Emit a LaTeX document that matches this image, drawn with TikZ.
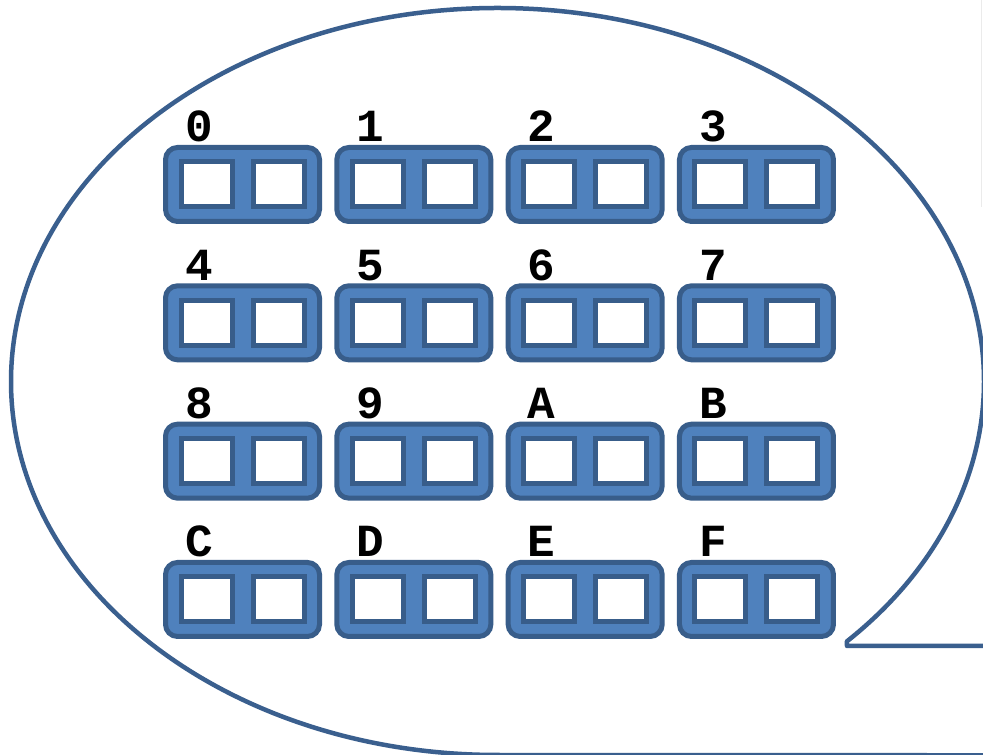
\documentclass[tikz,border=0pt]{standalone}
\usepackage{fontspec}
\newfontfamily\lblfont{Liberation Mono}
\definecolor{cellfill}{HTML}{4F81BD}
\definecolor{celledge}{HTML}{385D8A}
\definecolor{bubbleedge}{HTML}{3A5F8E}
\tikzset{
  blk/.style={draw=celledge, fill=cellfill, line width=5pt, rounded corners=12pt,
    minimum width=154pt, minimum height=74pt, inner sep=0pt},
  slot/.style={draw=celledge, fill=white, line width=5pt,
    minimum width=51pt, minimum height=45pt, inner sep=0pt},
  lbl/.style={anchor=base, inner sep=0pt, font=\lblfont\bfseries\fontsize{46}{46}\selectfont},
  bubble/.style={draw=bubbleedge, line width=4.5pt, line join=round}
}
\begin{document}
\begin{tikzpicture}[x=1pt, y=1pt]
  \useasboundingbox (0,0) rectangle (983,755);
  \fill[white] (0,0) rectangle (983,755);
  \begin{scope}
    \clip (0,0) rectangle (983,755);
    % faint edge of a neighbouring panel
    \draw[black!8, line width=1.5pt] (981.5,755) -- (981.5,548);
    % speech bubble with its tail running off to the right
    \coordinate (bb) at (497.5,0);
    \coordinate (tip) at (847,109);
    \coordinate (tailend) at (1010,109);
    \coordinate (baseend) at (1010,-0.3);
    \draw[bubble] (bb) arc[start angle=270, end angle=-44.1, x radius=486.5pt, y radius=373.5pt]
      -- (tip) -- (tailend) -- (baseend) -- cycle;
  \end{scope}
  % 4 x 4 grid of two-slot cells with hexadecimal labels
  \foreach \t [count=\i from 0] in {0,1,2,3,4,5,6,7,8,9,A,B,C,D,E,F} {
    \pgfmathtruncatemacro{\c}{mod(\i,4)}
    \pgfmathtruncatemacro{\r}{div(\i,4)}
    \pgfmathsetmacro{\cx}{242.5+171.33*\c}
    \pgfmathsetmacro{\cy}{570.5-138.33*\r}
    \node[blk] (cell\t) at (\cx,\cy) {};
    \node[slot] (cell\t-a) at ([xshift=-36pt]cell\t.center) {};
    \node[slot] (cell\t-b) at ([xshift=36pt]cell\t.center) {};
    \node[lbl] (lab\t) at ([xshift=-43.5pt, yshift=42.5pt]cell\t.center) {\t};
  }
\end{tikzpicture}
\end{document}
